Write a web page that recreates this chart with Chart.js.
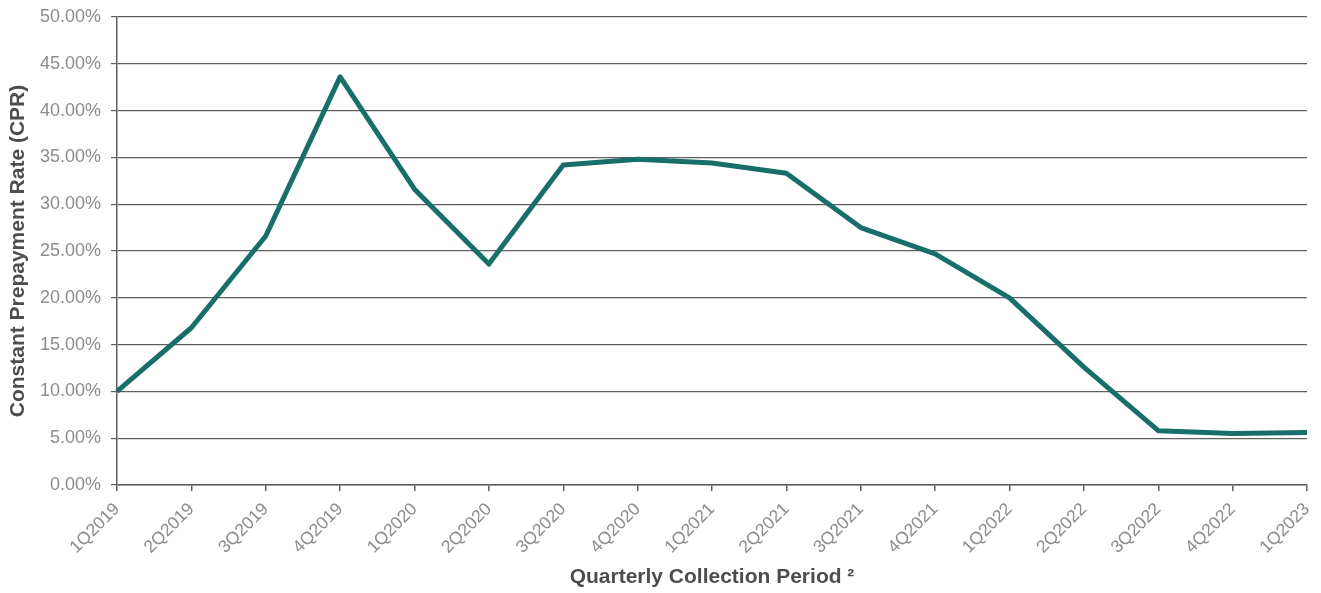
<!DOCTYPE html>
<html>
<head>
<meta charset="utf-8">
<script src="https://cdn.jsdelivr.net/npm/chart.js@4/dist/chart.umd.min.js"></script>
<style>
  html, body { margin: 0; padding: 0; background: #ffffff; }
  canvas { display: block; }
</style>
</head>
<body>
<canvas id="c" width="1321" height="593"></canvas>
<script>
const categories = ['1Q2019','2Q2019','3Q2019','4Q2019','1Q2020','2Q2020','3Q2020','4Q2020','1Q2021','2Q2021','3Q2021','4Q2021','1Q2022','2Q2022','3Q2022','4Q2022','1Q2023'];
const cprValues = [10.0, 16.8, 26.6, 43.6, 31.6, 23.6, 34.2, 34.8, 34.4, 33.3, 27.5, 24.7, 20.0, 12.6, 5.8, 5.5, 5.6];
const yTickMin = 0;
const yTickMax = 50;
const yTickStep = 5;
const yTitle = 'Constant Prepayment Rate (CPR)';
const xTitle = 'Quarterly Collection Period \u00B2';

const FONT = "'Liberation Sans', Arial, Helvetica, sans-serif";
const GRID = '#5f5f5f';

new Chart(document.getElementById('c'), {
  type: 'line',
  data: {
    labels: categories,
    datasets: [{
      data: cprValues,
      borderColor: '#186e68',
      backgroundColor: '#186e68',
      borderWidth: 5,
      tension: 0,
      pointRadius: 0,
      pointHoverRadius: 0,
      borderJoinStyle: 'round',
      fill: false
    }]
  },
  options: {
    responsive: false,
    animation: false,
    devicePixelRatio: 1,
    layout: { padding: { top: 17, right: 14, left: 0, bottom: 0 } },
    plugins: { legend: { display: false }, tooltip: { enabled: false } },
    scales: {
      x: {
        offset: false,
        grid: { drawOnChartArea: false, drawTicks: true, tickLength: 6, color: GRID, lineWidth: 1.5 },
        border: { display: true, color: GRID, width: 1.5 },
        ticks: {
          color: '#8c8c8c',
          font: { family: FONT, size: 17.5 },
          maxRotation: 45, minRotation: 45,
          padding: 8,
          autoSkip: false
        },
        title: {
          display: true, text: xTitle, color: '#4d4d4d',
          font: { family: FONT, size: 21, weight: 'bold' },
          padding: { top: 0, bottom: 3 }
        },
        afterFit: s => { s.height = 108; s.paddingLeft = 0; s.paddingRight = 0; }
      },
      y: {
        min: yTickMin, max: yTickMax,
        grid: { color: GRID, lineWidth: 1.2, drawTicks: true, tickLength: 6 },
        border: { display: true, color: GRID, width: 1.5 },
        ticks: {
          stepSize: yTickStep,
          color: '#8c8c8c',
          font: { family: FONT, size: 18 },
          padding: 10,
          callback: v => Number(v).toFixed(2) + '%'
        },
        title: {
          display: true, text: yTitle, color: '#4d4d4d',
          font: { family: FONT, size: 21, weight: 'bold' },
          padding: { top: 6, bottom: 4 }
        },
        afterFit: s => { s.width = 117; s.paddingTop = 0; s.paddingBottom = 0; }
      }
    }
  }
});
</script>
</body>
</html>
